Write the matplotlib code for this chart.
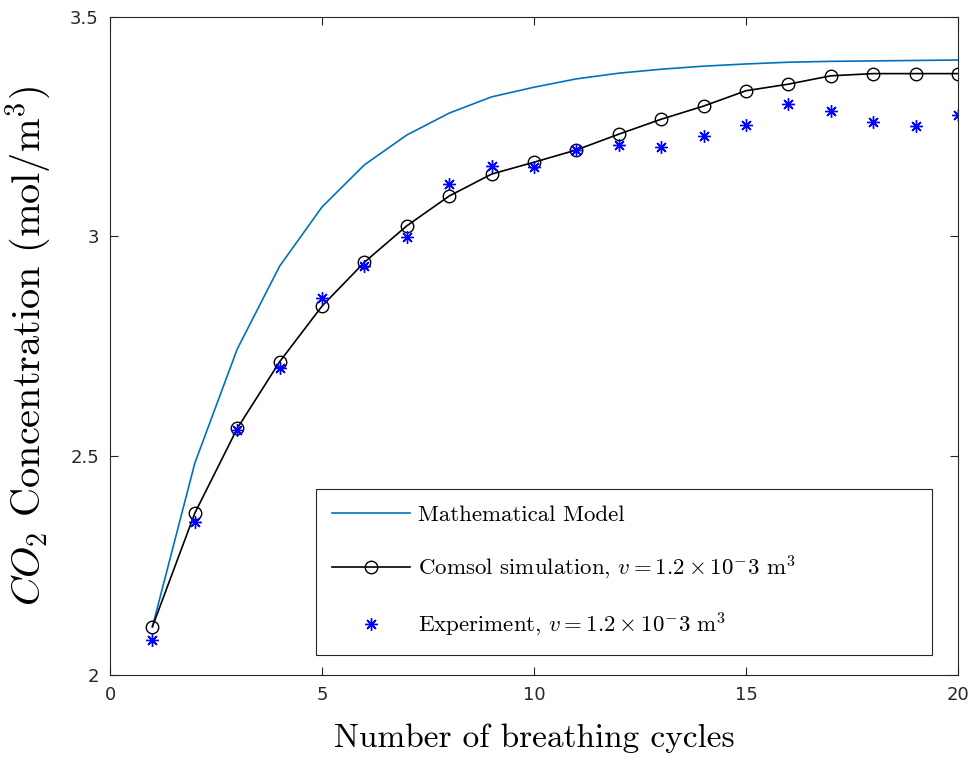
import numpy as np
import matplotlib.pyplot as plt

plt.rcParams['mathtext.fontset'] = 'cm'
plt.rcParams['font.family'] = 'DejaVu Sans'

cycles = np.arange(1, 21)

# modelo matemático
model = [2.11, 2.483, 2.743, 2.932, 3.067, 3.163, 3.231, 3.281, 3.318, 3.340,
         3.359, 3.372, 3.381, 3.388, 3.393, 3.397, 3.399, 3.400, 3.401, 3.402]

# simulación en Comsol
comsol = [2.110, 2.369, 2.562, 2.714, 2.841, 2.941, 3.024, 3.092, 3.142, 3.169,
          3.197, 3.233, 3.267, 3.297, 3.332, 3.347, 3.366, 3.371, 3.371, 3.371]

# datos experimentales
experiment = [2.080, 2.348, 2.559, 2.699, 2.860, 2.933, 2.999, 3.119, 3.160, 3.159,
              3.197, 3.208, 3.204, 3.229, 3.254, 3.302, 3.286, 3.260, 3.252, 3.277]

xticks = [0, 5, 10, 15, 20]
yticks = [2, 2.5, 3, 3.5]
ytick_labels = ['2', '2.5', '3', '3.5']

fig = plt.figure(figsize=(9.71, 7.57), dpi=100)
ax = fig.add_axes([0.1133, 0.1083, 0.8733, 0.8692])

ax.plot(cycles, model, color='#0072BD', linewidth=1.2, label='Mathematical Model')
ax.plot(cycles, comsol, color='black', linewidth=1.2, marker='o', markersize=9,
        markerfacecolor='none', markeredgecolor='black', markeredgewidth=1.0,
        label=r'Comsol simulation, $v = 1.2 \times 10^{-}3\ \mathrm{m}^3$')
ax.plot(cycles, experiment, linestyle='none', marker=(8, 2, 0), markersize=9,
        color='#0000FF', markeredgewidth=1.0,
        label=r'Experiment, $v = 1.2 \times 10^{-}3\ \mathrm{m}^3$')

ax.set_xlim(0, 20)
ax.set_ylim(2, 3.5)
ax.set_xticks(xticks)
ax.set_yticks(yticks)
ax.set_yticklabels(ytick_labels)
ax.tick_params(direction='in', top=True, right=True, length=6, width=0.8,
               labelsize=13, colors='#262626', pad=8)
for s in ax.spines.values():
    s.set_color('#262626')
    s.set_linewidth(0.8)

ax.set_xlabel('Number of breathing cycles', fontsize=24, fontfamily='cmr10', labelpad=14)
ax.set_ylabel(r'$CO_2$ Concentration (mol/m$^3$)', fontsize=29, fontfamily='cmr10', labelpad=12)

leg = ax.legend(loc='lower left', bbox_to_anchor=(0.243, 0.030, 0.726, 0.256), mode='expand',
                prop={'family': 'cmr10', 'size': 16.5}, handlelength=3.4, handletextpad=0.35,
                labelspacing=1.27, borderpad=0.7, borderaxespad=0, fancybox=False,
                framealpha=1, edgecolor='#262626')
leg.get_frame().set_linewidth(0.8)

fig.savefig('out.png', dpi=100)
